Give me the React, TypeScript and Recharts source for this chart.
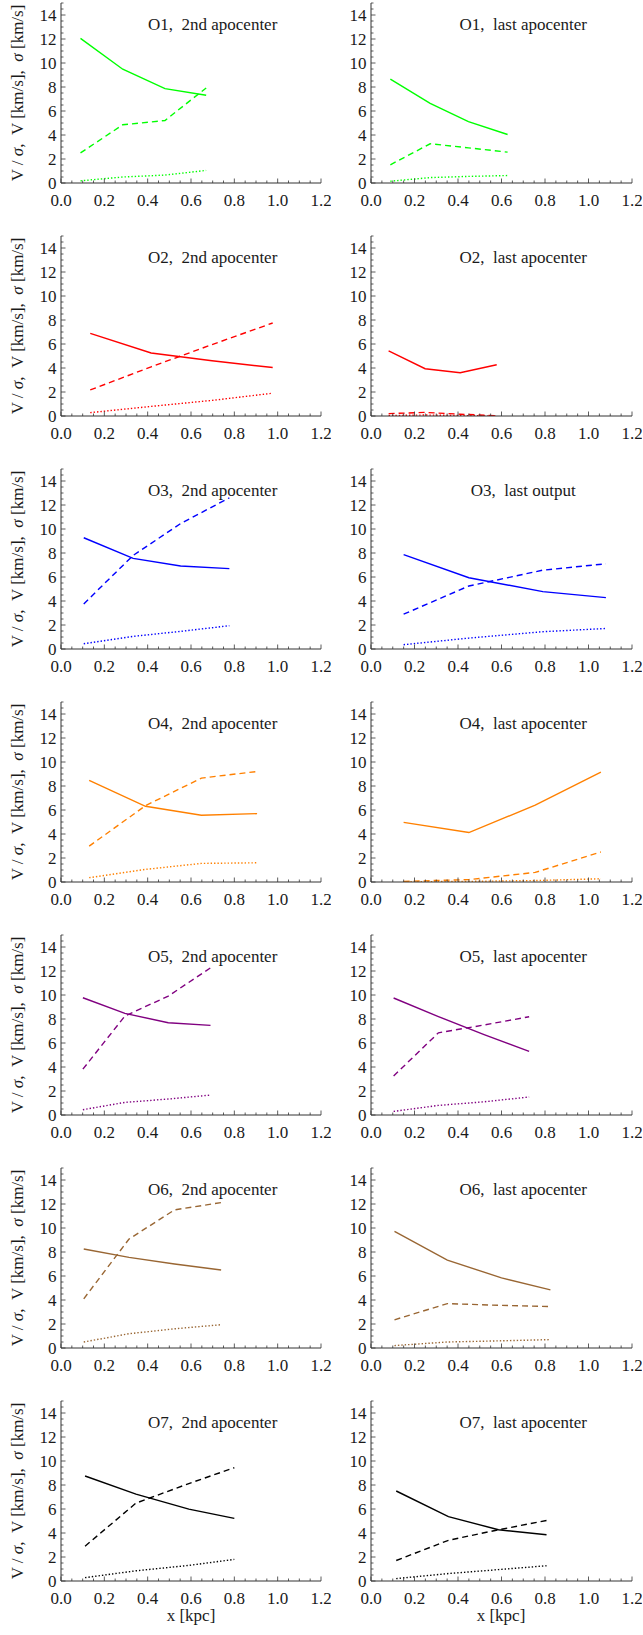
import React from "react";
import { LineChart, Line, XAxis, YAxis, ReferenceDot } from "recharts";

// axis tick labels
const X_TICKS = [0, 0.2, 0.4, 0.6, 0.8, 1.0, 1.2];
const Y_TICKS = [0, 2, 4, 6, 8, 10, 12, 14];

// per panel: radii, sigma (solid), V (dashed), V/sigma (dotted)
const X_O1_2ND = [0.09, 0.285, 0.48, 0.67];
const SIG_O1_2ND = [12.05, 9.48, 7.86, 7.31];
const V_O1_2ND = [2.51, 4.85, 5.21, 7.92];
const VS_O1_2ND = [0.18, 0.5, 0.66, 1.05];

const X_O1_LAST = [0.089, 0.272, 0.448, 0.628];
const SIG_O1_LAST = [8.66, 6.64, 5.12, 4.04];
const V_O1_LAST = [1.52, 3.27, 2.93, 2.57];
const VS_O1_LAST = [0.15, 0.45, 0.55, 0.62];

const X_O2_2ND = [0.135, 0.416, 0.697, 0.977];
const SIG_O2_2ND = [6.89, 5.25, 4.6, 4.04];
const V_O2_2ND = [2.17, 4.1, 5.95, 7.75];
const VS_O2_2ND = [0.28, 0.8, 1.3, 1.9];

const X_O2_LAST = [0.081, 0.249, 0.41, 0.578];
const SIG_O2_LAST = [5.43, 3.94, 3.61, 4.27];
const V_O2_LAST = [0.2, 0.3, 0.15, 0.02];
const VS_O2_LAST = [0.04, 0.08, 0.04, 0.0];

const X_O3_2ND = [0.105, 0.333, 0.552, 0.777];
const SIG_O3_2ND = [9.27, 7.55, 6.92, 6.7];
const V_O3_2ND = [3.76, 7.8, 10.45, 12.6];
const VS_O3_2ND = [0.44, 1.05, 1.47, 1.94];

const X_O3_LAST = [0.15, 0.45, 0.79, 1.08];
const SIG_O3_LAST = [7.87, 5.94, 4.78, 4.28];
const V_O3_LAST = [2.9, 5.25, 6.57, 7.1];
const VS_O3_LAST = [0.36, 0.91, 1.44, 1.71];

const X_O4_2ND = [0.13, 0.39, 0.648, 0.905];
const SIG_O4_2ND = [8.47, 6.31, 5.56, 5.7];
const V_O4_2ND = [2.99, 6.36, 8.66, 9.21];
const VS_O4_2ND = [0.36, 1.05, 1.55, 1.6];

const X_O4_LAST = [0.15, 0.45, 0.755, 1.057];
const SIG_O4_LAST = [4.97, 4.12, 6.4, 9.15];
const V_O4_LAST = [0.05, 0.2, 0.8, 2.5];
const VS_O4_LAST = [0.02, 0.05, 0.12, 0.27];

const X_O5_2ND = [0.101, 0.295, 0.495, 0.69];
const SIG_O5_2ND = [9.77, 8.47, 7.69, 7.47];
const V_O5_2ND = [3.82, 8.25, 9.91, 12.26];
const VS_O5_2ND = [0.44, 1.05, 1.33, 1.66];

const X_O5_LAST = [0.104, 0.31, 0.52, 0.727];
const SIG_O5_LAST = [9.75, 8.2, 6.7, 5.3];
const V_O5_LAST = [3.25, 6.85, 7.5, 8.19];
const VS_O5_LAST = [0.3, 0.8, 1.1, 1.5];

const X_O6_2ND = [0.105, 0.314, 0.524, 0.739];
const SIG_O6_2ND = [8.25, 7.55, 7.0, 6.5];
const V_O6_2ND = [4.1, 9.08, 11.51, 12.12];
const VS_O6_2ND = [0.5, 1.19, 1.6, 1.94];

const X_O6_LAST = [0.108, 0.351, 0.6, 0.825];
const SIG_O6_LAST = [9.71, 7.33, 5.84, 4.84];
const V_O6_LAST = [2.35, 3.7, 3.55, 3.45];
const VS_O6_LAST = [0.2, 0.5, 0.6, 0.7];

const X_O7_2ND = [0.111, 0.346, 0.59, 0.8];
const SIG_O7_2ND = [8.75, 7.24, 5.99, 5.22];
const V_O7_2ND = [2.9, 6.49, 8.12, 9.44];
const VS_O7_2ND = [0.28, 0.85, 1.3, 1.8];

const X_O7_LAST = [0.116, 0.356, 0.586, 0.807];
const SIG_O7_LAST = [7.5, 5.37, 4.27, 3.86];
const V_O7_LAST = [1.71, 3.39, 4.27, 5.04];
const VS_O7_LAST = [0.2, 0.62, 0.95, 1.27];

const COLORS = ["#00ff00", "#ff0000", "#0000ff", "#ff8000", "#800080", "#996633", "#000000"];

const PANELS = [
  ["O1", "2nd apocenter", X_O1_2ND, SIG_O1_2ND, V_O1_2ND, VS_O1_2ND],
  ["O1", "last apocenter", X_O1_LAST, SIG_O1_LAST, V_O1_LAST, VS_O1_LAST],
  ["O2", "2nd apocenter", X_O2_2ND, SIG_O2_2ND, V_O2_2ND, VS_O2_2ND],
  ["O2", "last apocenter", X_O2_LAST, SIG_O2_LAST, V_O2_LAST, VS_O2_LAST],
  ["O3", "2nd apocenter", X_O3_2ND, SIG_O3_2ND, V_O3_2ND, VS_O3_2ND],
  ["O3", "last output", X_O3_LAST, SIG_O3_LAST, V_O3_LAST, VS_O3_LAST],
  ["O4", "2nd apocenter", X_O4_2ND, SIG_O4_2ND, V_O4_2ND, VS_O4_2ND],
  ["O4", "last apocenter", X_O4_LAST, SIG_O4_LAST, V_O4_LAST, VS_O4_LAST],
  ["O5", "2nd apocenter", X_O5_2ND, SIG_O5_2ND, V_O5_2ND, VS_O5_2ND],
  ["O5", "last apocenter", X_O5_LAST, SIG_O5_LAST, V_O5_LAST, VS_O5_LAST],
  ["O6", "2nd apocenter", X_O6_2ND, SIG_O6_2ND, V_O6_2ND, VS_O6_2ND],
  ["O6", "last apocenter", X_O6_LAST, SIG_O6_LAST, V_O6_LAST, VS_O6_LAST],
  ["O7", "2nd apocenter", X_O7_2ND, SIG_O7_2ND, V_O7_2ND, VS_O7_2ND],
  ["O7", "last apocenter", X_O7_LAST, SIG_O7_LAST, V_O7_LAST, VS_O7_LAST],
] as const;

const FONT = "'Liberation Serif', 'Times New Roman', serif";
const FRAME = "#333";
const INK = "#1a1a1a";
const MAJOR = 4.5;
const MINOR = 2.5;
const ROW_H = 233;

// minor tick positions (every 0.05 in x, 0.5 in y)
const X_ALL = Array.from({ length: 25 }, (_, i) => Math.round(i * 5) / 100);
const Y_ALL = Array.from({ length: 31 }, (_, i) => i / 2);
const near = (v: number, list: readonly number[]) => list.some((t) => Math.abs(t - v) < 1e-6);

const BottomTick = ({ x, y, payload }: any) => {
  const major = near(payload.value, X_TICKS);
  return (
    <g>
      <line x1={x} x2={x} y1={y} y2={y - (major ? MAJOR : MINOR)} stroke={FRAME} strokeWidth={0.8} />
      {major && (
        <text x={x} y={y + 23} textAnchor="middle" fontFamily={FONT} fontSize={17} fill={INK}>
          {payload.value.toFixed(1)}
        </text>
      )}
    </g>
  );
};

const TopTick = ({ x, y, payload }: any) => {
  const major = near(payload.value, X_TICKS);
  return <line x1={x} x2={x} y1={y} y2={y + (major ? MAJOR : MINOR)} stroke={FRAME} strokeWidth={0.8} />;
};

const LeftTick = ({ x, y, payload }: any) => {
  const major = near(payload.value, Y_TICKS);
  return (
    <g>
      <line x1={x} x2={x + (major ? MAJOR : MINOR)} y1={y} y2={y} stroke={FRAME} strokeWidth={0.8} />
      {major && (
        <text x={x - 4.5} y={y + 5.7} textAnchor="end" fontFamily={FONT} fontSize={17} fill={INK}>
          {payload.value}
        </text>
      )}
    </g>
  );
};

const RightTick = ({ x, y, payload }: any) => {
  const major = near(payload.value, Y_TICKS);
  return <line x1={x} x2={x - (major ? MAJOR : MINOR)} y1={y} y2={y} stroke={FRAME} strokeWidth={0.8} />;
};

function Panel({ idx }: { idx: number }) {
  const [name, when, xs, sig, v, vs] = PANELS[idx];
  const col = idx % 2;
  const row = Math.floor(idx / 2);
  const color = COLORS[row];
  const data = xs.map((x, i) => ({ x, sig: sig[i], v: v[i], vs: vs[i] }));
  const width = col === 0 ? 331 : 332;
  const last = row === 6;
  const title = `${name},\u00a0 ${when}`;

  return (
    <div style={{ position: "absolute", left: col === 0 ? 0 : 310, top: row * ROW_H }}>
      <LineChart width={width} height={ROW_H} data={data} margin={{ top: 3, right: 10, bottom: 0, left: 0 }}>
        <XAxis
          xAxisId="b"
          dataKey="x"
          type="number"
          domain={[0, 1.2]}
          allowDataOverflow
          ticks={X_ALL}
          interval={0}
          tick={BottomTick}
          tickLine={false}
          tickSize={0}
          tickMargin={0}
          height={50}
          axisLine={{ stroke: FRAME }}
          label={
            last
              ? () => (
                  <text x={61 + 130} y={183 + 40} textAnchor="middle" fontFamily={FONT} fontSize={17} fill={INK}>
                    x [kpc]
                  </text>
                )
              : undefined
          }
        />
        <XAxis
          xAxisId="t"
          orientation="top"
          dataKey="x"
          type="number"
          domain={[0, 1.2]}
          allowDataOverflow
          ticks={X_ALL}
          interval={0}
          tick={TopTick}
          tickLine={false}
          tickSize={0}
          tickMargin={0}
          height={0}
          axisLine={{ stroke: FRAME }}
        />
        <YAxis
          yAxisId="l"
          type="number"
          domain={[0, 15]}
          allowDataOverflow
          ticks={Y_ALL}
          interval={0}
          tick={LeftTick}
          tickLine={false}
          tickSize={0}
          tickMargin={0}
          width={61}
          axisLine={{ stroke: FRAME }}
          label={
            col === 0
              ? () => (
                  <text
                    x={23}
                    y={93}
                    transform="rotate(-90, 23, 93)"
                    textAnchor="middle"
                    fontFamily={FONT}
                    fontSize={17}
                    fill={INK}
                    xmlSpace="preserve"
                    style={{ whiteSpace: "pre" }}
                  >
                    V / <tspan fontStyle="italic">σ</tspan>,  V [km/s],  <tspan fontStyle="italic">σ</tspan> [km/s]
                  </text>
                )
              : undefined
          }
        />
        <YAxis
          yAxisId="r"
          orientation="right"
          type="number"
          domain={[0, 15]}
          allowDataOverflow
          ticks={Y_ALL}
          interval={0}
          tick={RightTick}
          tickLine={false}
          tickSize={0}
          tickMargin={0}
          width={0}
          axisLine={{ stroke: FRAME }}
        />
        <Line xAxisId="b" yAxisId="l" dataKey="sig" stroke={color} strokeWidth={1.4} dot={false} isAnimationActive={false} />
        <Line xAxisId="b" yAxisId="l" dataKey="v" stroke={color} strokeWidth={1.4} strokeDasharray="6 4" dot={false} isAnimationActive={false} />
        <Line xAxisId="b" yAxisId="l" dataKey="vs" stroke={color} strokeWidth={1.4} strokeDasharray="1.4 2" dot={false} isAnimationActive={false} />
        <ReferenceDot
          xAxisId="b"
          yAxisId="l"
          x={0.7}
          y={13.25}
          r={1}
          fill="none"
          stroke="none"
          label={({ viewBox }: any) => (
            <text
              x={viewBox.x + viewBox.width / 2}
              y={viewBox.y + viewBox.height / 2 + 6}
              textAnchor="middle"
              fontFamily={FONT}
              fontSize={17}
              fill={INK}
            >
              {title}
            </text>
          )}
        />
      </LineChart>
    </div>
  );
}

export default function App() {
  return (
    <div style={{ position: "absolute", left: 0, top: 0, width: 643, height: 1635, background: "#fff" }}>
      {PANELS.map((_, i) => (
        <Panel key={i} idx={i} />
      ))}
    </div>
  );
}
